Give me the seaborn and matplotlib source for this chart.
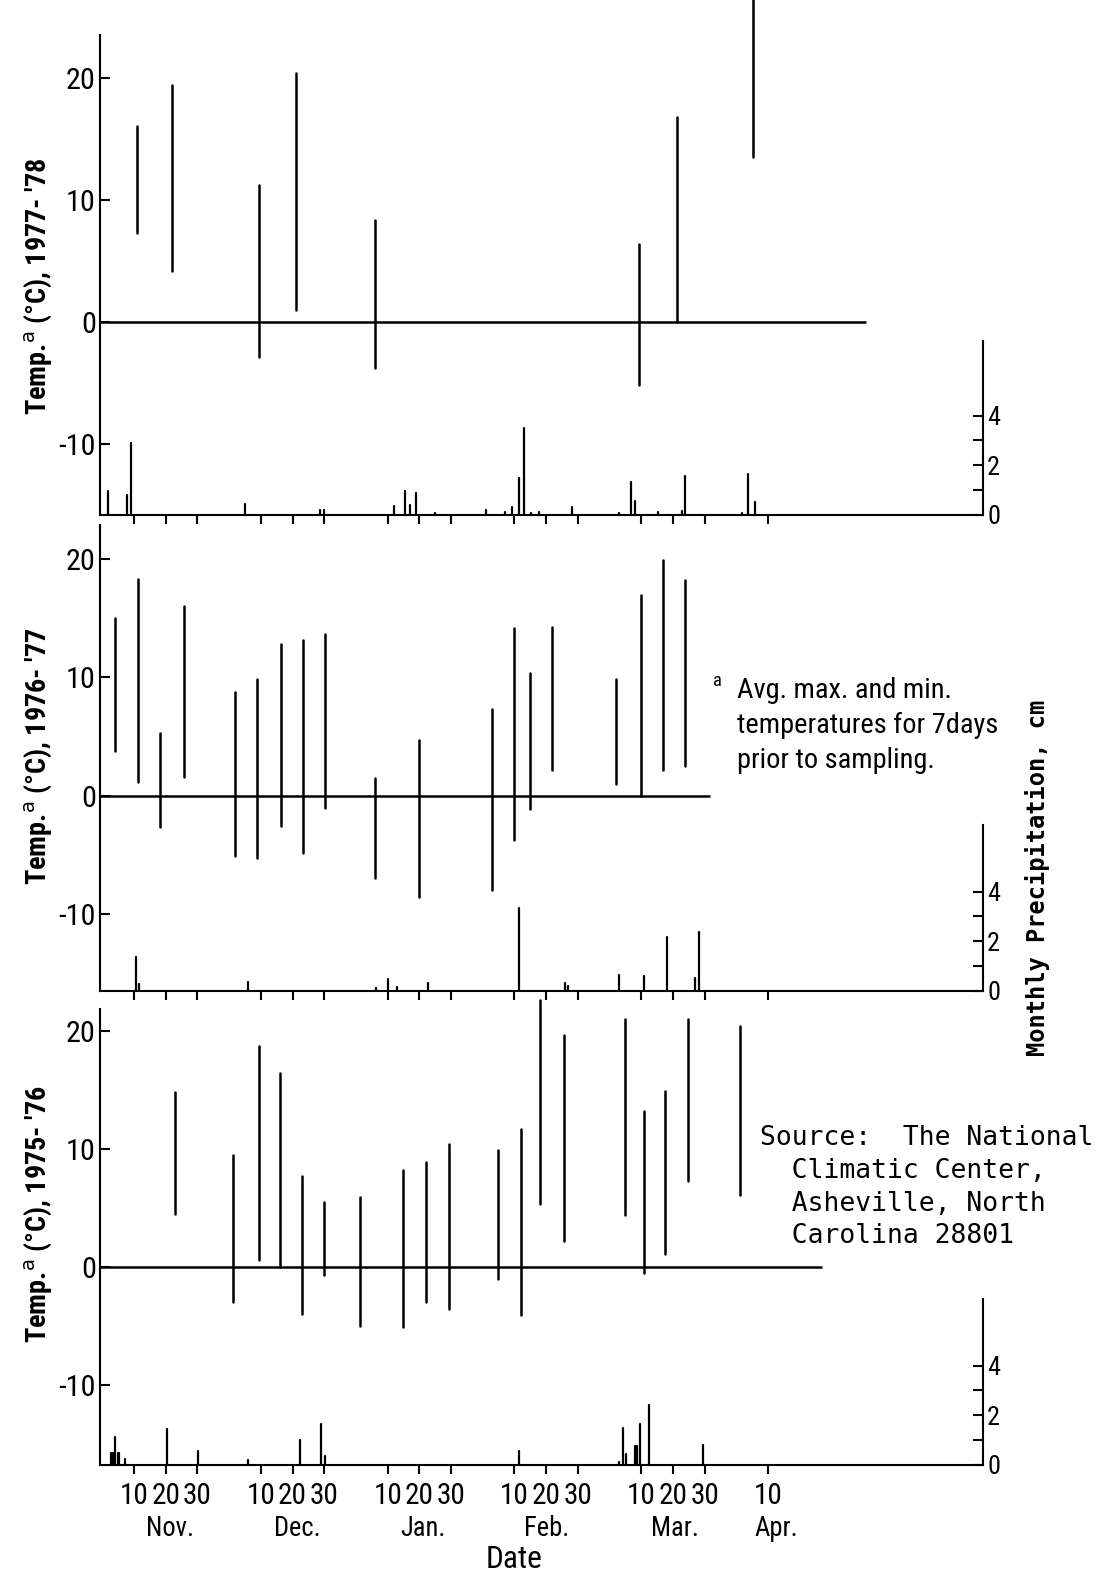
import os
import matplotlib
matplotlib.use("Agg")
import matplotlib.pyplot as plt
from matplotlib import font_manager
from matplotlib.font_manager import FontProperties
import seaborn as sns
import pandas as pd

# ---------------- data (x in axis units: month index*40 + day, Nov = 0) ----------------
month_names = ["Nov.", "Dec.", "Jan.", "Feb.", "Mar.", "Apr."]
month_label_pos = [21.5, 61.5, 101.0, 140.0, 180.5, 212.5]
tick_days = [10, 20, 30]
tick_labels_last = ["10"]          # April only shows 10

# 1977-'78
t78_pos = [10.9, 21.9, 49.4, 61.1, 85.9, 169.3, 181.4, 205.4]
t78_max = [16.1, 19.4, 11.2, 20.4, 8.4, 6.4, 16.8, 26.8]
t78_min = [7.3, 4.2, -2.85, 1.0, -3.8, -5.2, 0.0, 13.5]
p78_pos = [1.7, 7.8, 9.2, 45.0, 68.7, 70.0, 91.9, 95.6, 96.9, 99.1, 105.0, 121.1, 126.9,
           129.1, 131.3, 133.0, 135.3, 137.8, 148.0, 163.1, 166.7, 168.1, 175.2, 182.7,
           183.8, 201.7, 203.6, 205.9]
p78_val = [0.95, 0.82, 2.88, 0.44, 0.19, 0.19, 0.37, 0.95, 0.41, 0.9, 0.1, 0.19, 0.14,
           0.33, 1.48, 3.5, 0.1, 0.14, 0.33, 0.07, 1.32, 0.57, 0.12, 0.16, 1.56, 0.07,
           1.63, 0.53]

# 1976-'77
t77_pos = [3.9, 11.1, 18.1, 25.9, 42.0, 48.9, 56.3, 63.3, 70.2, 86.1, 100.0, 123.0, 130.0,
           134.8, 141.9, 162.0, 169.8, 176.9, 183.7]
t77_max = [15.0, 18.3, 5.3, 16.0, 8.8, 9.9, 12.8, 13.2, 13.7, 1.5, 4.7, 7.3, 14.2, 10.4,
           14.3, 9.9, 17.0, 19.9, 18.2]
t77_min = [3.8, 1.2, -2.6, 1.6, -5.1, -5.2, -2.5, -4.8, -1.0, -6.9, -8.5, -7.9, -3.7, -1.1,
           2.2, 1.0, 0.0, 2.2, 2.5]
p77_pos = [10.7, 11.7, 45.8, 86.3, 90.0, 93.1, 102.8, 131.4, 146.0, 147.0, 163.0, 170.9,
           178.0, 187.1, 188.2]
p77_val = [1.37, 0.27, 0.38, 0.13, 0.47, 0.16, 0.31, 3.34, 0.34, 0.2, 0.65, 0.61, 2.16,
           0.51, 2.39]

# 1975-'76
t76_pos = [23.0, 41.2, 49.3, 56.1, 63.0, 69.8, 81.2, 95.0, 102.1, 109.3, 124.9, 132.1,
           138.0, 145.6, 165.0, 170.8, 177.4, 184.9, 201.0]
t76_max = [14.8, 9.5, 18.7, 16.4, 7.7, 5.5, 5.9, 8.2, 8.9, 10.4, 9.9, 11.7, 22.6, 19.7,
           21.0, 13.2, 14.9, 21.0, 20.4]
t76_min = [4.5, -2.95, 0.6, 0.0, -4.0, -0.7, -5.0, -5.1, -3.0, -3.6, -1.0, -4.05, 5.3,
           2.2, 4.4, -0.55, 1.1, 7.3, 6.1]
p76_pos = [2.8, 3.4, 4.1, 4.8, 5.4, 7.2, 20.3, 30.2, 46.1, 62.2, 68.9, 70.2, 131.3, 163.1,
           164.4, 165.3, 168.1, 168.7, 169.5, 172.3, 189.6]
p76_val = [0.5, 0.5, 1.12, 0.5, 0.5, 0.24, 1.43, 0.58, 0.2, 0.99, 1.66, 0.38, 0.55, 0.13,
           1.47, 0.44, 0.75, 0.75, 1.67, 2.4, 0.8]

season_labels = ["1977- '78", "1976- '77", "1975- '76"]
footnote_lines = ["Avg. max. and min.", "temperatures for 7days", "prior to sampling."]
source_lines = ["Source:  The National", "  Climatic Center,", "  Asheville, North",
                "  Carolina 28801"]

# ---------------- style ----------------
sns.set_theme(style="ticks")
plt.rcParams["font.family"] = ["DejaVu Sans"]
plt.rcParams["axes.linewidth"] = 1.5
plt.rcParams["axes.edgecolor"] = "black"
plt.rcParams["text.color"] = "black"
plt.rcParams["xtick.color"] = "black"
plt.rcParams["ytick.color"] = "black"


def pick_condensed(bold):
    prefs = ["liberationsansnarrow", "robotocondensed", "dejavusanscondensed",
             "notosans-condensed", "notosanscondensed", "opensans-condensed",
             "opensanscondensed"]
    found = {}
    for f in font_manager.fontManager.ttflist:
        fn = os.path.basename(f.fname).lower().replace("_", "").replace(" ", "")
        if "italic" in fn or "oblique" in fn:
            continue
        if any(s in fn for s in ("light", "thin", "medium", "black", "semibold",
                                 "extrabold", "extralight")):
            continue
        if ("bold" in fn) != bold:
            continue
        for p in prefs:
            if p in fn:
                found.setdefault(p, f.fname)
    for p in prefs:
        if p in found:
            return FontProperties(fname=found[p])
    return FontProperties(family="Roboto", weight="bold" if bold else "normal")


FP_REG = pick_condensed(False)
FP_BOLD = pick_condensed(True)
FP_MONO = FontProperties(family="DejaVu Sans Mono")
FP_MONO_B = FontProperties(family="DejaVu Sans Mono", weight="bold")

W, H = 1102, 1578
fig = plt.figure(figsize=(W / 100, H / 100), dpi=100)
fig.patch.set_facecolor("white")

LEFT_PX, RIGHT_PX = 100, 983
XLIM = (-0.73, 277.8)
PX_PER_CM = 24.85

layout = [
    dict(top=35, bot=515, zero=322, k=12.2, ptop=7.0, zend=241.0, lab_y=286),
    dict(top=525, bot=991, zero=796, k=11.85, ptop=6.7, zend=191.6, lab_y=756),
    dict(top=1009, bot=1465, zero=1267, k=11.8, ptop=6.7, zend=227.0, lab_y=1214),
]
temps = [(t78_pos, t78_min, t78_max), (t77_pos, t77_min, t77_max), (t76_pos, t76_min, t76_max)]
precs = [(p78_pos, p78_val), (p77_pos, p77_val), (p76_pos, p76_val)]

xticks = [m * 40 + d for m in range(5) for d in tick_days] + [5 * 40 + 10]
xticklabels = [str(d) for m in range(5) for d in tick_days] + tick_labels_last

roles = {"xtick": [], "ytick": [], "ptick": [], "month": [], "date": [], "ylab": [],
         "foot": [], "src": [], "plab": [], "sup": []}
axes_main = []

for i, (lay, (tp, tmin, tmax), (pp, pv)) in enumerate(zip(layout, temps, precs)):
    rect = [LEFT_PX / W, 1 - lay["bot"] / H, (RIGHT_PX - LEFT_PX) / W,
            (lay["bot"] - lay["top"]) / H]
    ax = fig.add_axes(rect)
    ax.set_facecolor("none")

    rows = []
    for j, (x, lo, hi) in enumerate(zip(tp, tmin, tmax)):
        rows.append(dict(id=j, x=x, temp=lo))
        rows.append(dict(id=j, x=x, temp=hi))
    tdf = pd.DataFrame(rows)
    sns.lineplot(data=tdf, x="x", y="temp", units="id", estimator=None, sort=False,
                 color="black", lw=1.8, ax=ax, legend=False)
    for ln in ax.lines:
        ln.set_clip_on(False)

    ymin = (lay["zero"] - lay["bot"]) / lay["k"]
    ymax = (lay["zero"] - lay["top"]) / lay["k"]
    ax.set_xlim(*XLIM)
    ax.set_ylim(ymin, ymax)
    ax.hlines(0, XLIM[0], lay["zend"], color="black", lw=1.8)

    ax.spines["top"].set_visible(False)
    ax.spines["right"].set_visible(False)
    ax.set_yticks([-10, 0, 10, 20])
    ax.set_yticklabels(["-10", "0", "10", "20"])
    ax.tick_params(axis="y", direction="in", length=7, width=1.5, pad=3)
    ax.set_xticks(xticks)
    if i == 2:
        ax.set_xticklabels(xticklabels)
    else:
        ax.set_xticklabels([])
    ax.tick_params(axis="x", direction="out", length=6.5, width=1.5, pad=6)
    ax.set_xlabel("")
    ax.set_ylabel("")
    roles["ytick"] += list(ax.get_yticklabels())
    if i == 2:
        roles["xtick"] += list(ax.get_xticklabels())

    ax2 = ax.twinx()
    prow = []
    for j, (x, v) in enumerate(zip(pp, pv)):
        prow.append(dict(id=j, x=x, p=0.0))
        prow.append(dict(id=j, x=x, p=v))
    pdf = pd.DataFrame(prow)
    sns.lineplot(data=pdf, x="x", y="p", units="id", estimator=None, sort=False,
                 color="black", lw=1.6, ax=ax2, legend=False)
    ax2.set_xlim(*XLIM)
    ax2.set_ylim(0, (lay["bot"] - lay["top"]) / PX_PER_CM)
    for s in ["top", "left", "bottom"]:
        ax2.spines[s].set_visible(False)
    ax2.spines["right"].set_bounds(0, lay["ptop"])
    ax2.set_yticks([0, 2, 4])
    ax2.set_yticklabels(["0", "2", "4"])
    ax2.set_yticks([1, 3], minor=True)
    ax2.tick_params(axis="y", which="both", direction="in", length=7, width=1.5, pad=3)
    ax2.set_xlabel("")
    ax2.set_ylabel("")
    roles["ptick"] += list(ax2.get_yticklabels())

    if i == 2:
        axes_main.append(ax)

    t = fig.text(38 / W, 1 - lay["lab_y"] / H,
                 "Temp.$^{\\mathrm{a}}$ (°C), " + season_labels[i],
                 rotation=90, ha="center", va="center")
    roles["ylab"].append(t)

axb = axes_main[0]
mtrans = matplotlib.transforms.blended_transform_factory(axb.transData, fig.transFigure)
for name, xm in zip(month_names, month_label_pos):
    roles["month"].append(fig.text(xm, 1 - 1528 / H, name, transform=mtrans,
                                   ha="center", va="center"))
roles["date"].append(fig.text(130, 1 - 1560 / H, "Date", transform=mtrans,
                              ha="center", va="center"))

roles["plab"].append(fig.text(1037 / W, 1 - 878 / H, "Monthly Precipitation, cm",
                              rotation=90, ha="center", va="center"))
roles["sup"].append(fig.text(717 / W, 1 - 681 / H, "a", ha="center", va="center"))
for k, line in enumerate(footnote_lines):
    roles["foot"].append(fig.text(737 / W, 1 - (690 + 35 * k) / H, line,
                                  ha="left", va="center"))
for k, line in enumerate(source_lines):
    roles["src"].append(fig.text(760 / W, 1 - (1138 + 32.8 * k) / H, line,
                                 ha="left", va="center"))

# role: (font props, start size, index of reference text, target px, measure dim)
spec = {
    "xtick": (FP_REG, 18, 1, 29, "w"),
    "ytick": (FP_REG, 18, 3, 30, "w"),
    "ptick": (FP_REG, 18, 2, 13, "w"),
    "month": (FP_REG, 18, 0, 48, "w"),
    "date": (FP_REG, 18, 0, 57, "w"),
    "ylab": (FP_BOLD, 18, 0, 258, "h"),
    "foot": (FP_REG, 18, 1, 262, "w"),
    "src": (FP_MONO, 18, 0, 332, "w"),
    "plab": (FP_MONO_B, 17, 0, 357, "h"),
    "sup": (FP_REG, 14, 0, 9, "w"),
}
for role, (fp, size, idx, target, dim) in spec.items():
    for t in roles[role]:
        p = fp.copy()
        p.set_size(size)
        t.set_fontproperties(p)

fig.canvas.draw()
r = fig.canvas.get_renderer()
for role, (fp, size, idx, target, dim) in spec.items():
    items = roles[role]
    if not items:
        continue
    bb = items[idx].get_window_extent(r)
    meas = bb.width if dim == "w" else bb.height
    if meas <= 0:
        continue
    new = size * target / meas
    new = max(min(new, size * 1.6), size * 0.6)
    for t in items:
        p = fp.copy()
        p.set_size(new)
        t.set_fontproperties(p)

fig.savefig("out.png", dpi=100, facecolor="white")
